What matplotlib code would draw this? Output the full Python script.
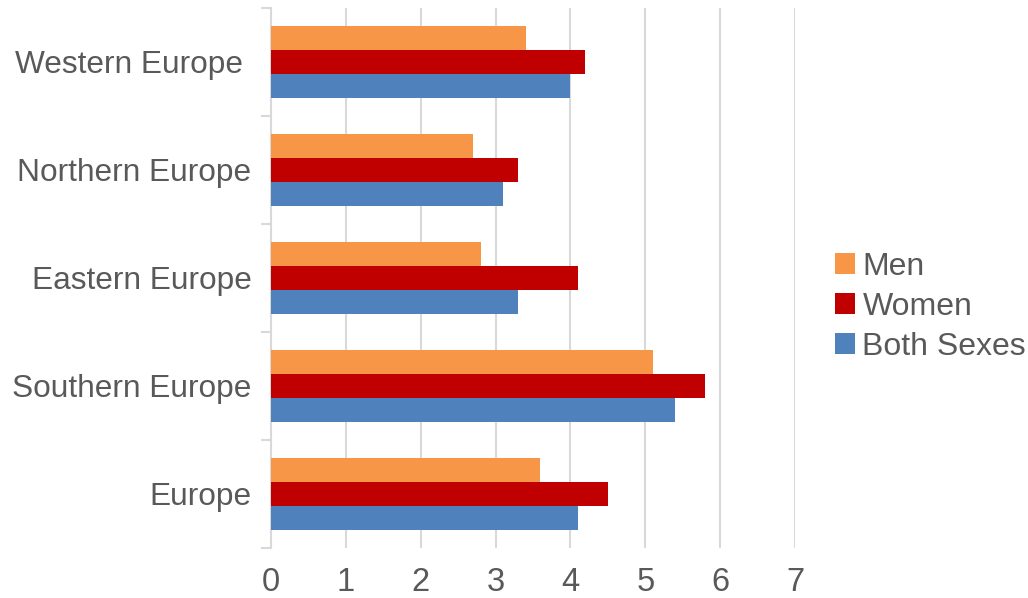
import numpy as np
import matplotlib.pyplot as plt
from matplotlib.patches import Patch

plt.rcParams['font.family'] = ['Liberation Sans', 'DejaVu Sans']

# data, bottom to top as drawn
regions = ['Europe', 'Southern Europe', 'Eastern Europe', 'Northern Europe', 'Western Europe ']
men = [3.6, 5.1, 2.8, 2.7, 3.4]
women = [4.5, 5.8, 4.1, 3.3, 4.2]
both = [4.1, 5.4, 3.3, 3.1, 4.0]

series_names = ['Men', 'Women', 'Both Sexes']
colors = ['#F79646', '#C00000', '#4F81BD']
text_col = '#595959'
grid_col = '#D9D9D9'

fig = plt.figure(figsize=(10.28, 5.98), dpi=100)
ax = fig.add_axes([271 / 1028, 1 - 548 / 598, (795 - 271) / 1028, (548 - 8) / 598])

y = np.arange(len(regions))
h = 0.222
ax.barh(y + h, men, height=h, color=colors[0], zorder=3)
ax.barh(y, women, height=h, color=colors[1], zorder=3)
ax.barh(y - h, both, height=h, color=colors[2], zorder=3)

ax.set_xlim(0, 7)
ax.set_ylim(-0.5, len(regions) - 0.5)
ax.set_xticks(range(8))
ax.set_yticks(y)
ax.set_yticklabels(regions)
ax.set_yticks(np.arange(-0.5, len(regions)), minor=True)

for s in ['top', 'right', 'bottom']:
    ax.spines[s].set_visible(False)
ax.spines['left'].set_color(grid_col)
ax.spines['left'].set_linewidth(1.5)

ax.xaxis.grid(True, color=grid_col, linewidth=1.5, zorder=0)
ax.tick_params(axis='x', length=0, pad=14, labelsize=23.5, labelcolor=text_col)
ax.tick_params(axis='y', which='major', length=0, pad=14, labelsize=22.8, labelcolor=text_col)
ax.tick_params(axis='y', which='minor', length=7, width=1.5, color=grid_col)

handles = [Patch(facecolor=c) for c in colors]
fig.legend(handles, series_names, loc='center left',
           bbox_to_anchor=(835 / 1028, 1 - 307 / 598), bbox_transform=fig.transFigure,
           frameon=False, fontsize=23, labelcolor=text_col, borderpad=0,
           handlelength=0.63, handleheight=0.63, handletextpad=0.23, labelspacing=0.31,
           borderaxespad=0)

fig.savefig('out.png', dpi=100)
